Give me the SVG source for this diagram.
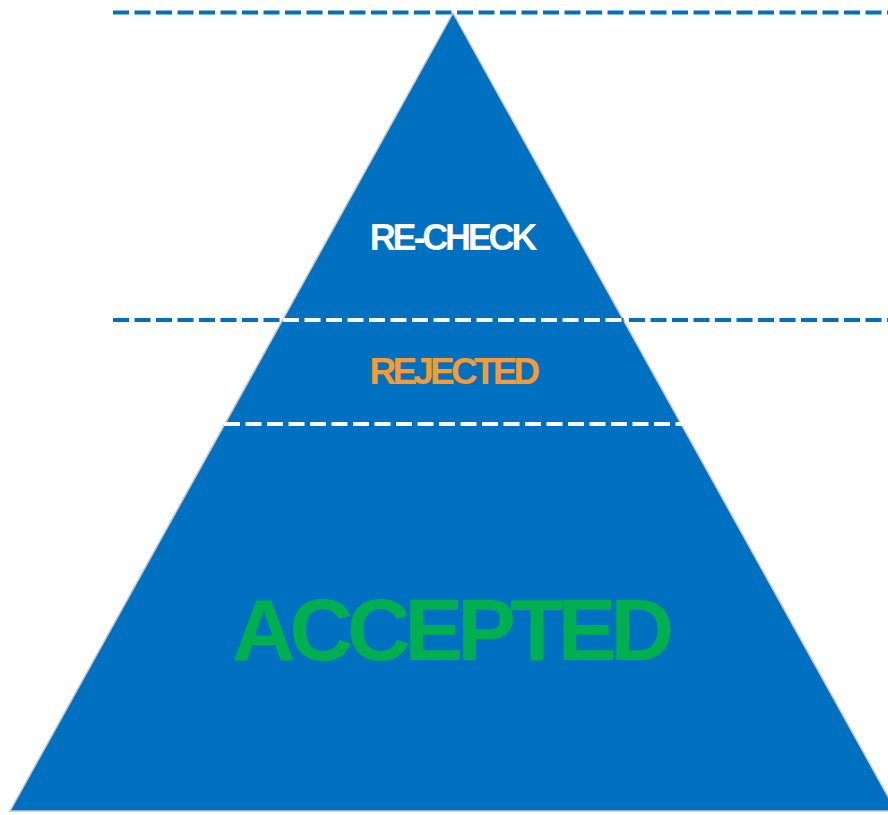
<svg xmlns="http://www.w3.org/2000/svg" width="888" height="815" viewBox="0 0 888 815">
<style>
.dash{fill:none;stroke-width:4;stroke-dasharray:16 5.5}
.blue{stroke:#0070C0}
.white{stroke:#FFFFFF}
.lbl{font-family:"Liberation Sans",Arial,sans-serif;font-weight:bold;text-anchor:middle}
</style>
<rect width="888" height="815" fill="#FFFFFF"/>
<g id="pyramid">
<polygon points="453,13 10,811 896,811" fill="#0070C0" stroke="#C8C8C8" stroke-width="1.5"/>
</g>
<g id="connectors">
<line class="dash blue" x1="113" y1="12.5" x2="888" y2="12.5"/>
<line class="dash blue" x1="113" y1="320" x2="888" y2="320"/>
<line class="dash white" x1="283" y1="320" x2="623" y2="320"/>
<line class="dash white" x1="224" y1="424" x2="684" y2="424"/>
</g>
<g id="recheck">
<text class="lbl" x="452" y="250" font-size="36" letter-spacing="-3.2" fill="#FFFFFF">RE-CHECK</text>
</g>
<g id="rejected">
<text class="lbl" x="453" y="384" font-size="37" letter-spacing="-3.8" fill="#F79A34">REJECTED</text>
</g>
<g id="accepted">
<text class="lbl" x="450" y="660" font-size="88" letter-spacing="-6" fill="#00B050">ACCEPTED</text>
</g>
</svg>
